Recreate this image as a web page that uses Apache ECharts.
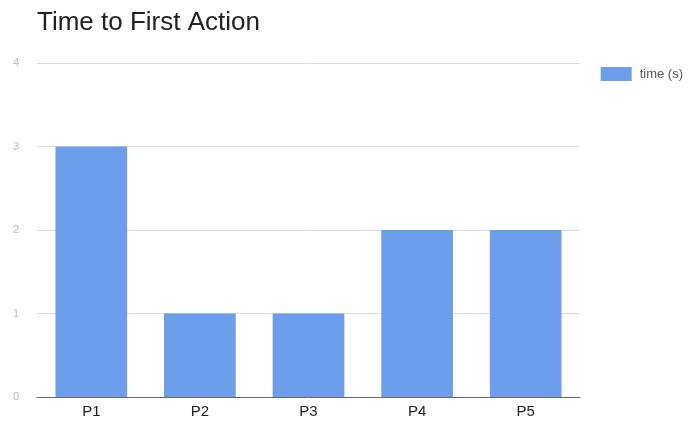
<!DOCTYPE html>
<html>
<head>
<meta charset="utf-8">
<script src="https://cdn.jsdelivr.net/npm/echarts@6/dist/echarts.min.js"></script>
<style>html,body{margin:0;padding:0;background:#fff;}#c{width:692px;height:425px;}</style>
</head>
<body>
<div id="c"></div>
<script>
const categories = ['P1', 'P2', 'P3', 'P4', 'P5'];
const timeValues = [3, 1, 1, 2, 2];
const seriesName = 'time (s)';
const chartTitle = 'Time to First Action';

const chart = echarts.init(document.getElementById('c'));
chart.setOption({
  animation: false,
  title: {
    text: chartTitle,
    left: 32, top: 5,
    textStyle: { fontFamily: 'Liberation Sans, Arial, sans-serif', fontSize: 26, fontWeight: 'normal', color: '#222' }
  },
  legend: {
    data: [seriesName],
    right: 4, top: 62,
    itemWidth: 31, itemHeight: 14, itemGap: 6,
    icon: 'rect',
    textStyle: { fontFamily: 'Liberation Sans, Arial, sans-serif', fontSize: 13, color: '#555', padding: [0, 0, 0, 3] }
  },
  grid: { left: 37, right: 112, top: 63, bottom: 28, containLabel: false },
  xAxis: {
    type: 'category',
    data: categories,
    axisLine: { show: true, lineStyle: { color: '#666', width: 1 } },
    axisTick: { show: false },
    axisLabel: { fontFamily: 'Liberation Sans, Arial, sans-serif', fontSize: 15, color: '#222', margin: 7 }
  },
  yAxis: {
    type: 'value',
    min: 0, max: 4, interval: 1,
    axisLine: { show: false },
    axisTick: { show: false },
    splitLine: { lineStyle: { color: '#ddd' } },
    axisLabel: { fontFamily: 'Liberation Sans, Arial, sans-serif', fontSize: 11, color: '#bbb', margin: 18 }
  },
  series: [{
    name: seriesName,
    type: 'bar',
    data: timeValues,
    barCategoryGap: '34%',
    itemStyle: { color: '#6d9eeb' }
  }]
});
</script>
</body>
</html>
